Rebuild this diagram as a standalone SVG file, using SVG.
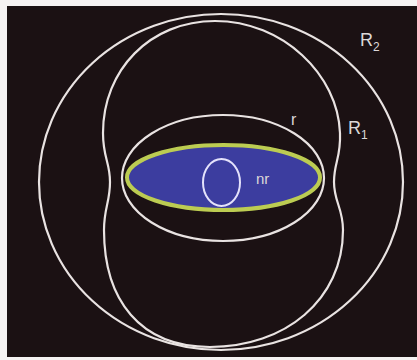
<svg xmlns="http://www.w3.org/2000/svg" width="417" height="360" viewBox="0 0 417 360">
<style>
.line{fill:none;stroke:#e9e3e2;stroke-width:2.2}
.lbl{fill:#dcd8d8;font-family:"Liberation Sans",Arial,sans-serif}
</style>
<rect x="0" y="0" width="417" height="360" fill="#f6f3f3"/>
<rect x="7" y="6" width="410" height="351" fill="#1b1113"/>
<g id="R2">
<ellipse class="line" cx="221" cy="182" rx="182" ry="168"/>
<text class="lbl" x="360" y="46" font-size="18">R<tspan font-size="12" dy="5">2</tspan></text>
</g>
<g id="R1">
<path class="line" d="M215 21 C283 21,338 75,340 133 C341 158,334 162,334 182 C334 202,343 208,343 230 C343 300,285 347,210 347 C140 347,104 300,104 230 C104 208,110 202,110 182 C110 162,103 158,103 133 C103 70,150 21,215 21 Z"/>
<text class="lbl" x="348" y="134" font-size="18">R<tspan font-size="12" dy="5">1</tspan></text>
</g>
<g id="r">
<ellipse class="line" cx="223" cy="178" rx="101" ry="63"/>
<text class="lbl" x="291" y="125" font-size="16">r</text>
</g>
<g id="nucleus">
<ellipse cx="223.5" cy="177.5" rx="96.5" ry="32.5" fill="#3c3d9f" stroke="#bccc52" stroke-width="4"/>
<ellipse cx="221.5" cy="182.5" rx="18.5" ry="23.5" fill="none" stroke="#e4e2fb" stroke-width="2"/>
<text class="lbl" x="256" y="184" font-size="15">nr</text>
</g>
<g id="connectors"></g>
</svg>
